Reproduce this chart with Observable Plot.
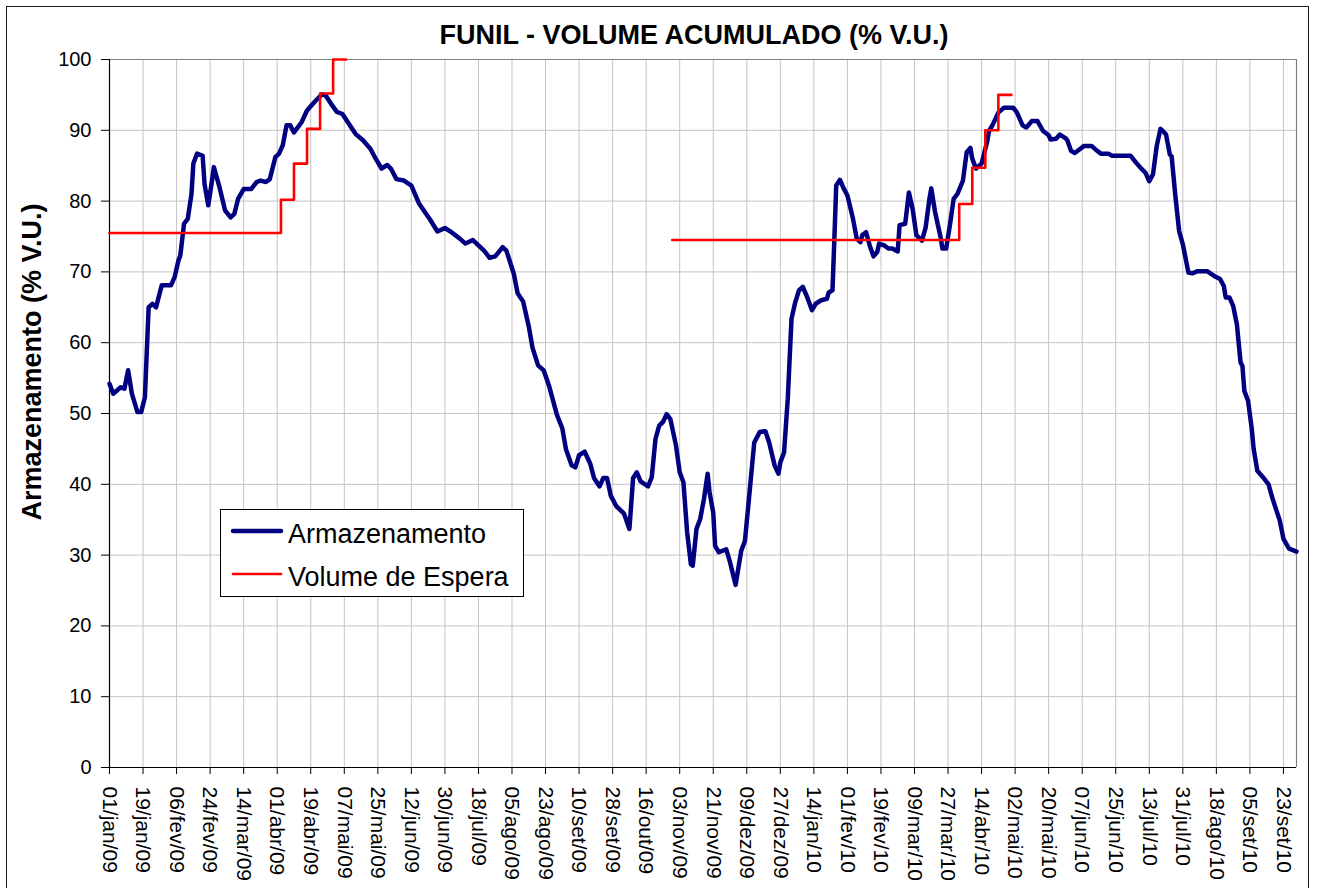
<!DOCTYPE html>
<html><head><meta charset="utf-8">
<script src="https://cdn.jsdelivr.net/npm/d3@7"></script>
<script src="https://cdn.jsdelivr.net/npm/@observablehq/plot@0.6"></script>
<style>
html,body{margin:0;padding:0;background:#fff;}
#wrap{position:relative;width:1320px;height:888px;overflow:hidden;font-family:"Liberation Sans",Arial,sans-serif;}
#border{position:absolute;left:6px;top:6px;width:1303px;height:940px;border:1px solid #1a1a1a;box-sizing:border-box;}
#chart{position:absolute;left:0;top:0;}
#overlay{position:absolute;left:0;top:0;}
</style></head><body>
<div id="wrap"><div id="border"></div><div id="chart"></div>
<svg id="overlay" width="1320" height="888" font-family="Liberation Sans, Arial, sans-serif">
  <text x="694" y="44" text-anchor="middle" font-weight="bold" font-size="27" fill="#000">FUNIL - VOLUME ACUMULADO (% V.U.)</text>
  <text transform="translate(41,362) rotate(-90)" text-anchor="middle" font-weight="bold" font-size="27" fill="#000">Armazenamento (% V.U.)</text>
  <g id="legend"></g>
</svg>
</div>
<script>
// ---------- data ----------
const armDates = ["2009-01-01","2009-01-03","2009-01-07","2009-01-09","2009-01-11","2009-01-13","2009-01-16","2009-01-18","2009-01-20","2009-01-22","2009-01-24","2009-01-26","2009-01-29","2009-02-03","2009-02-05","2009-02-07","2009-02-08","2009-02-10","2009-02-12","2009-02-14","2009-02-15","2009-02-17","2009-02-20","2009-02-21","2009-02-23","2009-02-25","2009-02-26","2009-03-01","2009-03-04","2009-03-07","2009-03-09","2009-03-11","2009-03-14","2009-03-18","2009-03-21","2009-03-23","2009-03-26","2009-03-28","2009-03-31","2009-04-02","2009-04-04","2009-04-06","2009-04-08","2009-04-10","2009-04-14","2009-04-17","2009-04-21","2009-04-25","2009-04-27","2009-04-30","2009-05-03","2009-05-06","2009-05-09","2009-05-13","2009-05-17","2009-05-21","2009-05-23","2009-05-27","2009-05-30","2009-06-01","2009-06-04","2009-06-08","2009-06-12","2009-06-16","2009-06-22","2009-06-26","2009-06-30","2009-07-03","2009-07-08","2009-07-11","2009-07-15","2009-07-19","2009-07-21","2009-07-24","2009-07-27","2009-07-31","2009-08-02","2009-08-06","2009-08-08","2009-08-11","2009-08-14","2009-08-16","2009-08-19","2009-08-22","2009-08-25","2009-08-29","2009-09-01","2009-09-03","2009-09-06","2009-09-08","2009-09-10","2009-09-13","2009-09-16","2009-09-18","2009-09-21","2009-09-23","2009-09-25","2009-09-27","2009-09-30","2009-10-04","2009-10-05","2009-10-07","2009-10-09","2009-10-11","2009-10-13","2009-10-17","2009-10-19","2009-10-21","2009-10-23","2009-10-25","2009-10-27","2009-10-29","2009-11-01","2009-11-03","2009-11-05","2009-11-07","2009-11-09","2009-11-10","2009-11-12","2009-11-14","2009-11-16","2009-11-18","2009-11-19","2009-11-21","2009-11-22","2009-11-24","2009-11-28","2009-11-30","2009-12-03","2009-12-06","2009-12-08","2009-12-10","2009-12-13","2009-12-16","2009-12-19","2009-12-21","2009-12-24","2009-12-26","2009-12-27","2009-12-29","2009-12-31","2010-01-02","2010-01-04","2010-01-06","2010-01-08","2010-01-10","2010-01-13","2010-01-15","2010-01-18","2010-01-21","2010-01-22","2010-01-24","2010-01-25","2010-01-26","2010-01-28","2010-01-30","2010-02-01","2010-02-04","2010-02-06","2010-02-08","2010-02-09","2010-02-11","2010-02-13","2010-02-15","2010-02-17","2010-02-18","2010-02-21","2010-02-23","2010-02-25","2010-02-28","2010-03-01","2010-03-04","2010-03-06","2010-03-08","2010-03-10","2010-03-13","2010-03-15","2010-03-17","2010-03-18","2010-03-20","2010-03-23","2010-03-24","2010-03-26","2010-03-28","2010-03-30","2010-04-01","2010-04-04","2010-04-06","2010-04-08","2010-04-09","2010-04-11","2010-04-14","2010-04-17","2010-04-18","2010-04-20","2010-04-23","2010-04-26","2010-05-01","2010-05-03","2010-05-06","2010-05-08","2010-05-11","2010-05-14","2010-05-17","2010-05-20","2010-05-21","2010-05-24","2010-05-26","2010-05-29","2010-05-30","2010-06-01","2010-06-03","2010-06-06","2010-06-08","2010-06-12","2010-06-15","2010-06-17","2010-06-21","2010-06-23","2010-07-03","2010-07-06","2010-07-09","2010-07-11","2010-07-13","2010-07-15","2010-07-17","2010-07-19","2010-07-21","2010-07-22","2010-07-24","2010-07-25","2010-07-27","2010-07-29","2010-07-31","2010-08-03","2010-08-05","2010-08-08","2010-08-13","2010-08-17","2010-08-20","2010-08-22","2010-08-23","2010-08-25","2010-08-27","2010-08-29","2010-08-31","2010-09-01","2010-09-02","2010-09-04","2010-09-06","2010-09-07","2010-09-09","2010-09-12","2010-09-15","2010-09-17","2010-09-19","2010-09-21","2010-09-23","2010-09-26","2010-09-30"];
const armValues = [54.2,52.8,53.7,53.5,56.1,52.8,50.2,50.2,52.3,65.0,65.5,65.0,68.1,68.1,69.3,71.6,72.3,76.8,77.5,81.0,85.3,86.7,86.4,82.4,79.4,82.9,84.8,82.0,78.7,77.7,78.2,80.3,81.7,81.7,82.7,82.9,82.7,83.1,86.2,86.7,87.9,90.7,90.7,89.7,91.1,92.8,94.0,95.1,94.9,93.7,92.6,92.3,91.1,89.5,88.6,87.4,86.4,84.6,85.1,84.6,83.1,82.9,82.2,79.7,77.4,75.7,76.2,75.7,74.7,74.0,74.5,73.5,73.0,72.0,72.2,73.5,73.0,69.7,67.0,65.8,62.3,59.3,56.8,56.1,53.8,49.9,47.9,44.9,42.7,42.4,44.1,44.6,42.9,40.9,39.7,40.9,40.9,38.4,36.9,35.9,35.2,33.7,40.9,41.7,40.4,39.7,41.0,46.4,48.3,48.8,49.9,49.2,45.5,41.7,40.3,33.2,28.7,28.5,33.7,35.1,37.9,41.5,38.9,36.0,31.3,30.4,30.8,29.0,25.8,30.6,32.0,37.5,45.9,47.4,47.5,45.9,42.6,41.5,43.1,44.5,52.1,63.4,65.7,67.4,67.9,66.7,64.6,65.5,66.0,66.2,67.1,67.4,74.7,82.2,83.0,81.8,80.8,77.5,74.7,74.2,75.2,75.6,73.7,72.2,72.8,74.0,73.7,73.3,73.3,72.9,76.6,76.8,81.2,78.9,75.2,74.4,76.3,80.3,81.8,78.5,74.9,73.3,73.3,76.6,80.3,81.0,82.9,86.9,87.5,86.0,84.6,85.3,88.4,89.9,90.8,92.5,93.2,93.2,92.5,90.7,90.4,91.3,91.3,89.9,89.3,88.7,88.8,89.4,88.9,88.6,87.1,86.8,87.4,87.8,87.8,87.1,86.7,86.7,86.4,86.4,85.4,84.5,84.0,82.8,83.8,87.8,90.2,89.7,89.4,86.6,86.3,80.7,75.8,73.9,69.9,69.8,70.1,70.1,69.4,69.0,68.0,66.4,66.4,65.2,62.6,57.2,56.7,53.2,51.8,47.8,45.0,41.9,41.0,40.0,38.1,36.5,34.9,32.3,30.9,30.5];

const esperaDates = ["2009-01-01","2009-04-03","2009-04-10","2009-04-17","2009-04-24","2009-05-01","2009-05-08",
                     "2009-10-30","2010-04-02","2010-04-09","2010-04-16","2010-04-23","2010-04-30"];
const esperaValues = [75.5,80.2,85.3,90.2,95.2,100,100, 74.5,79.6,84.7,90.0,95.0,95.0];
const esperaPeriod = [1,1,1,1,1,1,1, 2,2,2,2,2,2];

const xTickDates = ["2009-01-01","2009-01-19","2009-02-06","2009-02-24","2009-03-14","2009-04-01","2009-04-19","2009-05-07","2009-05-25","2009-06-12","2009-06-30","2009-07-18","2009-08-05","2009-08-23","2009-09-10","2009-09-28","2009-10-16","2009-11-03","2009-11-21","2009-12-09","2009-12-27","2010-01-14","2010-02-01","2010-02-19","2010-03-09","2010-03-27","2010-04-14","2010-05-02","2010-05-20","2010-06-07","2010-06-25","2010-07-13","2010-07-31","2010-08-18","2010-09-05","2010-09-23"];
const xTickLabels = ["01/jan/09","19/jan/09","06/fev/09","24/fev/09","14/mar/09","01/abr/09","19/abr/09","07/mai/09","25/mai/09","12/jun/09","30/jun/09","18/jul/09","05/ago/09","23/ago/09","10/set/09","28/set/09","16/out/09","03/nov/09","21/nov/09","09/dez/09","27/dez/09","14/jan/10","01/fev/10","19/fev/10","09/mar/10","27/mar/10","14/abr/10","02/mai/10","20/mai/10","07/jun/10","25/jun/10","13/jul/10","31/jul/10","18/ago/10","05/set/10","23/set/10"];
const yTicks = [0,10,20,30,40,50,60,70,80,90,100];

const seriesNames = ["Armazenamento","Volume de Espera"];
const seriesColors = ["#000080","#ff0000"];

// ---------- build ----------
const parse = s => new Date(s + "T00:00:00Z");
const arm = armDates.map((d, i) => ({date: parse(d), value: armValues[i]}));
const espera = esperaDates.map((d, i) => ({date: parse(d), value: esperaValues[i], period: esperaPeriod[i]}));
const xTicks = xTickDates.map(parse);
const labelOf = new Map(xTicks.map((d, i) => [+d, xTickLabels[i]]));
const x0 = parse("2009-01-01"), x1 = parse("2010-09-30");

const chart = Plot.plot({
  width: 1320, height: 888,
  marginLeft: 109, marginRight: 24, marginTop: 59, marginBottom: 121,
  style: {fontFamily: "Liberation Sans, Arial, sans-serif", color: "#000", background: "transparent"},
  x: {type: "utc", domain: [x0, x1]},
  y: {domain: [0, 100]},
  marks: [
    Plot.gridX(xTicks, {stroke: "#c4c4c4", strokeOpacity: 1, strokeWidth: 1}),
    Plot.gridY(yTicks, {stroke: "#c4c4c4", strokeOpacity: 1, strokeWidth: 1}),
    Plot.ruleY([100], {stroke: "#808080", strokeWidth: 1.2}),
    Plot.ruleX([x1], {stroke: "#808080", strokeWidth: 1.2}),
    Plot.ruleY([0], {stroke: "#000", strokeWidth: 1.2}),
    Plot.ruleX([x0], {stroke: "#000", strokeWidth: 1.2}),
    Plot.axisX(xTicks, {tickSize: 7, tickPadding: 12, tickRotate: 90, fontSize: 21, label: null, tickFormat: d => labelOf.get(+d)}),
    Plot.axisY(yTicks, {tickSize: 8, tickPadding: 10, fontSize: 20, label: null}),
    Plot.line(arm, {x: "date", y: "value", stroke: seriesColors[0], strokeWidth: 4.5, strokeLinejoin: "round", strokeLinecap: "round"}),
    Plot.line(espera, {x: "date", y: "value", z: "period", curve: "step-after", stroke: seriesColors[1], strokeWidth: 2.6})
  ]
});
document.getElementById("chart").appendChild(chart);

// legend
const NS = "http://www.w3.org/2000/svg";
const lg = document.getElementById("legend");
function el(tag, attrs, text) {
  const e = document.createElementNS(NS, tag);
  for (const k in attrs) e.setAttribute(k, attrs[k]);
  if (text) e.textContent = text;
  lg.appendChild(e);
  return e;
}
el("rect", {x: 220.5, y: 509.5, width: 303, height: 87, fill: "#fff", stroke: "#000", "stroke-width": 1});
const rows = [{y: 531, w: 4.5, base: 543}, {y: 574, w: 2.6, base: 586}];
rows.forEach((r, i) => {
  el("line", {x1: 233, x2: 281, y1: r.y, y2: r.y, stroke: seriesColors[i], "stroke-width": r.w, "stroke-linecap": "round"});
  el("text", {x: 288, y: r.base, "font-size": 27, fill: "#000"}, seriesNames[i]);
});
</script>
</body></html>
